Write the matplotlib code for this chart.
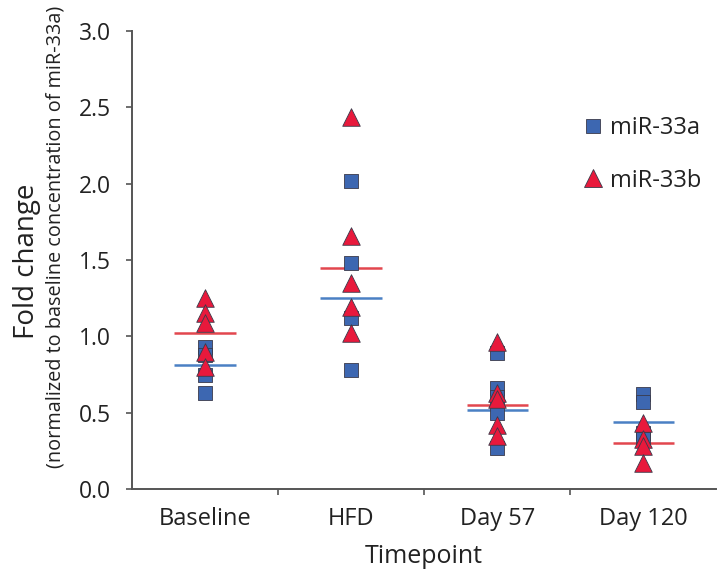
import matplotlib
matplotlib.use('Agg')
import numpy as np
import matplotlib.pyplot as plt
from matplotlib.lines import Line2D

plt.rcParams['font.family'] = ['Open Sans', 'DejaVu Sans']

# categories and values
timepoints = ['Baseline', 'HFD', 'Day 57', 'Day 120']

mir33a = [
    [0.93, 0.88, 0.75, 0.63],
    [2.02, 1.48, 1.12, 0.78],
    [0.89, 0.66, 0.60, 0.50, 0.27],
    [0.62, 0.57, 0.37, 0.33],
]
mir33b = [
    [1.25, 1.15, 1.09, 0.90, 0.80],
    [2.44, 1.66, 1.35, 1.19, 1.02],
    [0.96, 0.63, 0.59, 0.42, 0.35],
    [0.43, 0.33, 0.28, 0.17],
]
# group means as drawn in the reference
mean_a = [0.81, 1.25, 0.52, 0.44]
mean_b = [1.02, 1.45, 0.55, 0.30]

blue = '#3d67b1'
red = '#e8193c'
edge = '#3a3a4a'
line_blue = '#4a80c4'
line_red = '#e2474e'

fig = plt.figure(figsize=(7.17, 5.69), dpi=100)
ax = fig.add_axes([0.184, 0.1406, 0.8153, 0.8049])

xpos = np.arange(1, len(timepoints) + 1)
hw = 0.21
for i, x in enumerate(xpos):
    ax.hlines(mean_b[i], x - hw, x + hw, color=line_red, lw=1.8, zorder=1)
    ax.hlines(mean_a[i], x - hw, x + hw, color=line_blue, lw=1.8, zorder=1)
    ax.scatter([x] * len(mir33a[i]), mir33a[i], marker='s', s=95,
               c=blue, edgecolors=edge, linewidths=0.6, zorder=2)
    ax.scatter([x] * len(mir33b[i]), mir33b[i], marker='^', s=160,
               c=red, edgecolors=edge, linewidths=0.6, zorder=3)

ax.set_xlim(0.5, 4.5)
ax.set_ylim(0, 3.0)
ax.set_yticks(np.arange(0, 3.01, 0.5))
ax.set_yticklabels(['%.1f' % v for v in np.arange(0, 3.01, 0.5)])
ax.set_xticks(xpos)
ax.set_xticklabels(timepoints)
ax.set_xticks([1.5, 2.5, 3.5], minor=True)
ax.tick_params(axis='x', which='major', length=0, labelsize=17, pad=13,
               colors='#222222')
ax.tick_params(axis='x', which='minor', length=4, width=1.2, color='#555555')
ax.tick_params(axis='y', length=4, width=1.2, color='#555555', labelsize=16.5,
               pad=11, labelcolor='#222222')

for side in ['top', 'right']:
    ax.spines[side].set_visible(False)
for side in ['left', 'bottom']:
    ax.spines[side].set_color('#555555')
    ax.spines[side].set_linewidth(1.4)

ax.set_xlabel('Timepoint', fontsize=18, color='#222222', labelpad=9)

fig.text(0.038, 0.541, 'Fold change', rotation=90, ha='center', va='center',
         fontsize=20, color='#222222')
fig.text(0.077, 0.583, '(normalized to baseline concentration of miR-33a)',
         rotation=90, ha='center', va='center', fontsize=14.3, color='#222222')

handles = [
    Line2D([], [], ls='none', marker='s', ms=9.5, mfc=blue, mec=edge, mew=0.6),
    Line2D([], [], ls='none', marker='^', ms=12.5, mfc=red, mec=edge, mew=0.6),
]
ax.legend(handles, ['miR-33a', 'miR-33b'], loc='upper left',
          bbox_to_anchor=(0.737, 0.86), frameon=False, fontsize=17,
          labelspacing=1.2, handlelength=0.8, handletextpad=0.3,
          labelcolor='#222222')

fig.savefig('out.png', dpi=100)
